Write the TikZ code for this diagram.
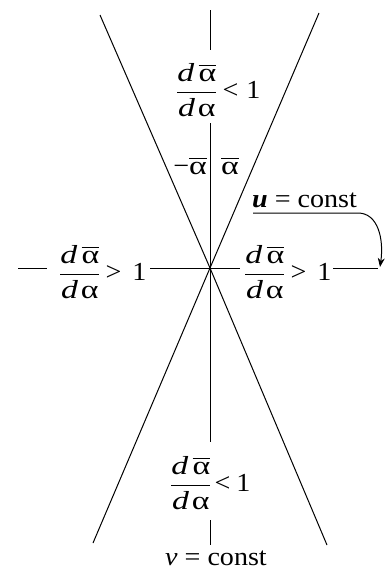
\RequirePackage{fix-cm}
\documentclass[tikz,border=0pt]{standalone}
\usepackage{fontspec}
\setmainfont{Liberation Serif}[FakeStretch=1.08]
\newfontfamily\fr{Liberation Serif}[FakeStretch=1.3]
\usetikzlibrary{arrows.meta}
\newcommand{\abar}{\hbox{\vbox{\hrule height 1.5pt\kern2.6pt\hbox{\fr α}}}}
\newcommand{\dadb}{\ensuremath{\displaystyle{\mbox{\fr\itshape d}\,\mbox{\abar} \above 1.5pt \mbox{\fr\itshape d\kern3pt\upshape α}}}}
\begin{document}
\begin{tikzpicture}[x=1pt,y=-1pt,
  lab/.style={inner sep=0pt, font=\fontsize{26}{30}\selectfont},
  ln/.style={line width=1pt}]
\useasboundingbox (0,0) rectangle (387,571);
% centre and line ends
\coordinate (C) at (210,268);
\coordinate (tl) at (100,15);
\coordinate (br) at (327,545);
\coordinate (tr) at (319,13);
\coordinate (bl) at (93,543);
\coordinate (vA) at (210,10);
\coordinate (vB) at (210,50);
\coordinate (vC) at (210,123);
\coordinate (vD) at (210,442);
\coordinate (vE) at (210,520);
\coordinate (vF) at (210,545);
\coordinate (hA) at (18,268);
\coordinate (hB) at (47,268);
\coordinate (hC) at (150,268);
\coordinate (hD) at (240,268);
\coordinate (hE) at (333,268);
\coordinate (hF) at (378,268);
\coordinate (ul) at (253,213);
\coordinate (ar) at (380,267);
% labels
\node[lab, anchor=west] (tf) at (176,90) {\dadb\kern5pt<\kern8pt1};
\node[lab, anchor=west] (bf) at (170,483) {\dadb\kern3pt<\kern6pt1};
\node[lab, anchor=west] (lf) at (59,272) {\dadb\kern5pt>\kern11pt1};
\node[lab, anchor=west] (rf) at (244,272) {\dadb\kern5pt>\kern11pt1};
\node[lab, anchor=east] (ma) at (207,166) {−\abar};
\node[lab, anchor=west] (pa) at (221,166) {\abar};
\node[lab, anchor=base west] (uc) at (252,207) {\textbf{\textit{u}} = const};
\node[lab, anchor=base] (vc) at (216,565) {\textit{v} = const};
% lines
\draw[ln] (tl) -- (C) -- (br);
\draw[ln] (tr) -- (C) -- (bl);
\draw[ln] (vA) -- (vB);
\draw[ln] (vC) -- (vD);
\draw[ln] (vE) -- (vF);
\draw[ln] (hA) -- (hB);
\draw[ln] (hC) -- (hD);
\draw[ln] (hE) -- (hF);
\draw[ln, -{Stealth[length=9pt,width=7pt]}] (ul) -- ++(105,0) .. controls +(20,0) and +(4,-28) .. (ar);
\end{tikzpicture}
\end{document}
